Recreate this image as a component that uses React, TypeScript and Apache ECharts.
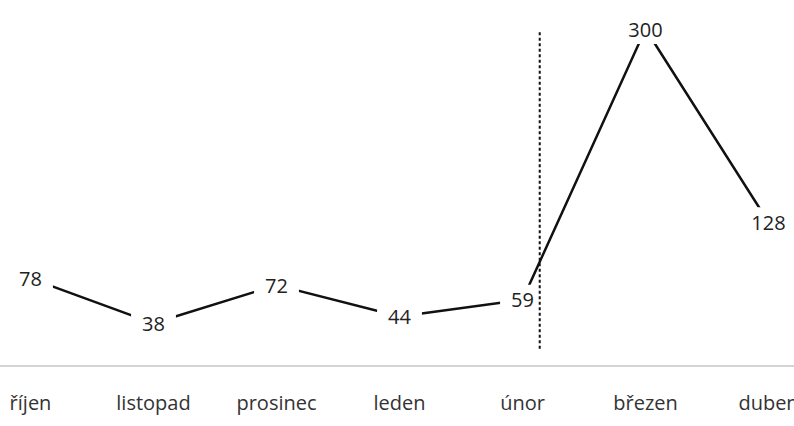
import React, { useEffect, useRef } from "react";
import * as echarts from "echarts";

const categories = ["říjen", "listopad", "prosinec", "leden", "únor", "březen", "duben"];
const values = [78, 38, 72, 44, 59, 300, 128];
const dividerAfter = "únor";

export default function App() {
  const ref = useRef<HTMLDivElement>(null);
  useEffect(() => {
    const el = ref.current!;
    const chart = echarts.init(el, null, { renderer: "svg" });
    const font = "'Open Sans', 'Liberation Sans', sans-serif";
    chart.setOption({
      animation: false,
      backgroundColor: "#ffffff",
      grid: { left: 0, width: 861, top: 29, bottom: 60, containLabel: false },
      xAxis: {
        type: "category",
        data: categories,
        boundaryGap: true,
        axisLine: { show: true, lineStyle: { color: "#d4d4d4", width: 2 } },
        axisTick: { show: false },
        axisLabel: { color: "#333", fontFamily: font, fontSize: 20, margin: 26 },
        splitLine: { show: false },
      },
      yAxis: {
        type: "value",
        min: 0,
        max: 300,
        show: false,
        splitLine: { show: false },
      },
      series: [
        {
          type: "line",
          data: values,
          symbol: "circle",
          symbolSize: 1,
          itemStyle: { color: "rgba(0,0,0,0)" },
          lineStyle: { color: "#111", width: 2.5 },
          label: {
            show: true,
            position: "inside",
            color: "#222",
            fontFamily: font,
            fontSize: 20,
            backgroundColor: "#ffffff",
            padding: [5, 11, 5, 11],
          },
          z: 2,
        },
      ],
    });
    const idx = categories.indexOf(dividerAfter);
    const p = chart.convertToPixel({ xAxisIndex: 0, yAxisIndex: 0 }, [idx, 0]) as number[];
    const p2 = chart.convertToPixel({ xAxisIndex: 0, yAxisIndex: 0 }, [idx + 1, 0]) as number[];
    const xLine = p[0] + (p2[0] - p[0]) * 0.14;
    const yTop = chart.convertToPixel({ yAxisIndex: 0 }, 297) as number;
    const yBot = chart.convertToPixel({ yAxisIndex: 0 }, 15) as number;
    chart.setOption({
      graphic: [
        {
          type: "line",
          shape: { x1: xLine, y1: yTop, x2: xLine, y2: yBot },
          style: { stroke: "#111", lineWidth: 2, lineDash: [3, 2.5] },
          z: 10,
        },
      ],
    });
    return () => chart.dispose();
  }, []);
  return (
    <div style={{ position: "fixed", left: 0, top: 0, width: 794, height: 426, overflow: "hidden", background: "#fff" }}>
      <div ref={ref} style={{ width: 900, height: 426, position: "absolute", left: -31, top: 0 }} />
    </div>
  );
}
